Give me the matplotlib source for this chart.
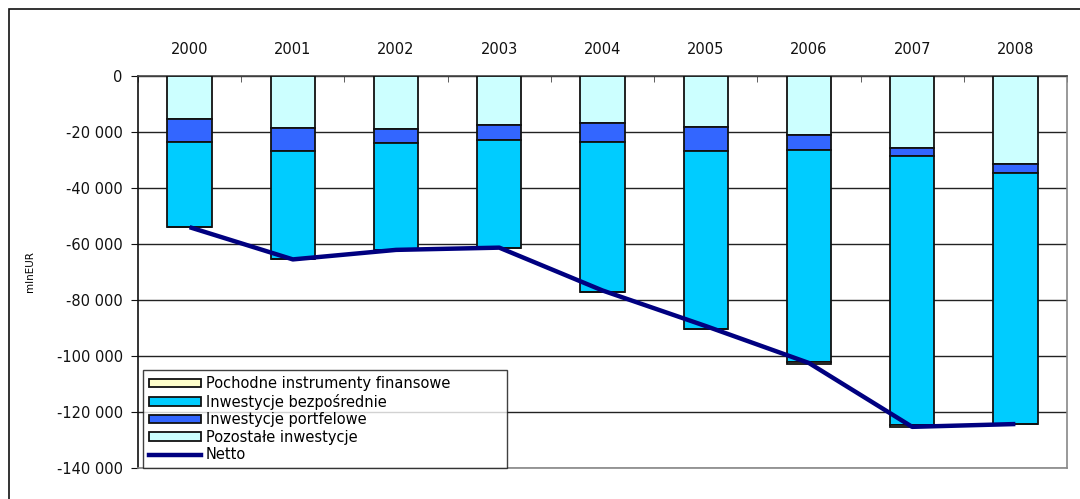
import matplotlib
matplotlib.use("Agg")
import matplotlib.pyplot as plt
import matplotlib.patches as mpatches
from matplotlib.lines import Line2D
import numpy as np

years = ["2000", "2001", "2002", "2003", "2004", "2005", "2006", "2007", "2008"]
pozostale = [-15400, -18700, -19000, -17500, -16900, -18100, -21100, -25700, -31500]
portfelowe = [-8100, -8000, -5100, -5400, -6600, -8800, -5400, -2900, -3000]
bezposrednie = [-30500, -38800, -38200, -38600, -53500, -63400, -75800, -96200, -89900]
pochodne = [0, 0, 0, 0, 0, 0, -700, -600, 0]
netto = [-54000, -65500, -62100, -61300, -76600, -89300, -102500, -125300, -124300]

yticks = [0, -20000, -40000, -60000, -80000, -100000, -120000, -140000]
ytick_labels = ["0", "-20 000", "-40 000", "-60 000", "-80 000", "-100 000", "-120 000", "-140 000"]

c_poch = "#FFFFCC"
c_bez = "#00CCFF"
c_port = "#3366FF"
c_poz = "#CCFFFF"
c_net = "#000080"

plt.rcParams['font.family'] = ['DejaVu Sans']

fig = plt.figure(figsize=(10.8, 4.99), dpi=100)
ax = fig.add_axes([138/1080, 1-468/499, (1067-138)/1080, (468-76)/499])

x = np.arange(len(years))
w = 0.43
poz = np.array(pozostale, float)
por = np.array(portfelowe, float)
bez = np.array(bezposrednie, float)
poc = np.array(pochodne, float)

kw = dict(width=w, edgecolor="#111111", linewidth=1.3, zorder=3)
ax.bar(x, poz, bottom=0, color=c_poz, **kw)
ax.bar(x, por, bottom=poz, color=c_port, **kw)
ax.bar(x, bez, bottom=poz+por, color=c_bez, **kw)
ax.bar(x, poc, bottom=poz+por+bez, color=c_poch, **kw)
ax.plot(x, netto, color=c_net, linewidth=3.2, zorder=5, solid_capstyle='butt')

ax.set_xlim(-0.5, len(years)-0.5)
ax.set_ylim(-140000, 0)
ax.set_yticks(yticks)
ax.set_yticklabels(ytick_labels, fontsize=10.5, color="#111111")
ax.yaxis.grid(True, color="#222222", linewidth=1.0, zorder=0)
ax.set_axisbelow(True)

ax.xaxis.tick_top()
ax.set_xticks(x)
ax.set_xticklabels(years, fontsize=10.5, color="#111111")
ax.tick_params(axis='x', which='major', length=0, pad=14)
ax.set_xticks(np.arange(len(years)+1)-0.5, minor=True)
ax.tick_params(axis='x', which='minor', direction='in', length=4, color="#444444", top=True, bottom=False)
ax.tick_params(axis='y', direction='out', length=5, color="#111111", pad=6)

ax.spines['left'].set_color("#111111")
ax.spines['top'].set_color("#444444")
ax.spines['right'].set_color("#888888")
ax.spines['bottom'].set_color("#888888")
for s in ax.spines.values():
    s.set_linewidth(1.2)

ax.set_ylabel("mlnEUR", fontsize=7.5)
ax.yaxis.set_label_coords(-0.1105, 0.5)

handles = [
    mpatches.Patch(facecolor=c_poch, edgecolor="#111111", linewidth=1.3),
    mpatches.Patch(facecolor=c_bez, edgecolor="#111111", linewidth=1.3),
    mpatches.Patch(facecolor=c_port, edgecolor="#111111", linewidth=1.3),
    mpatches.Patch(facecolor=c_poz, edgecolor="#111111", linewidth=1.3),
    Line2D([0], [0], color=c_net, linewidth=3.2),
]
labels = ["Pochodne instrumenty finansowe", "Inwestycje bezpośrednie",
          "Inwestycje portfelowe", "Pozostałe inwestycje", "Netto"]
leg = ax.legend(handles, labels, loc="lower left",
                bbox_to_anchor=(5/929, 0.0, 364/929, 100/392), mode="expand",
                borderaxespad=0, fontsize=10.5, frameon=True, fancybox=False,
                handlelength=3.6, handleheight=0.5, handletextpad=0.3,
                labelspacing=0.17, borderpad=0.4)
leg.get_frame().set_edgecolor("#111111")
leg.get_frame().set_linewidth(1.0)
leg.set_zorder(10)

frame = mpatches.Rectangle((8.5/1080, -0.1), 1.2, 1 - 9/499 + 0.1, transform=fig.transFigure,
                           fill=False, edgecolor="#111111", linewidth=1.2, clip_on=False)
fig.patches.append(frame)

fig.savefig("out.png", dpi=100)
